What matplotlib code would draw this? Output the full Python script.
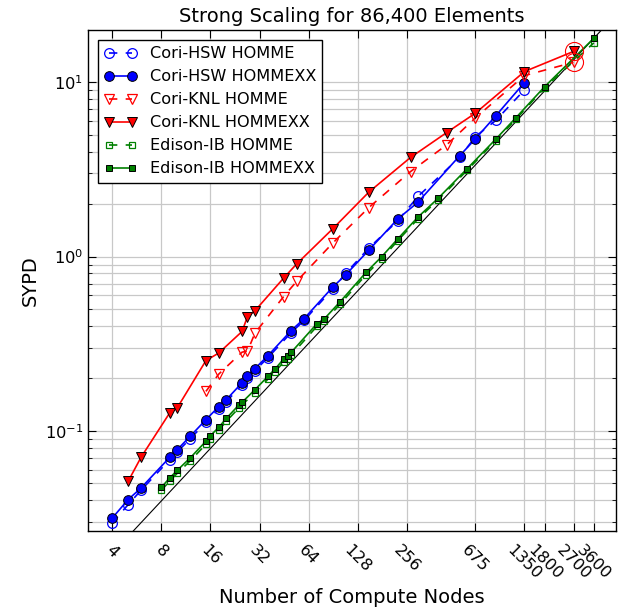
import numpy as np
import matplotlib
matplotlib.use("Agg")
import matplotlib.pyplot as plt
from matplotlib.ticker import NullLocator, NullFormatter, LogLocator

plt.rcParams['font.family'] = ['DejaVu Sans']
plt.rcParams['lines.scale_dashes'] = False
plt.rcParams['lines.dashed_pattern'] = [6, 6]

# ---- data ----
hsw_nodes = [4, 5, 6, 9, 10, 12, 15, 18, 20, 25, 27, 30, 36, 50, 60, 90, 108,
             150, 225, 300, 540, 675, 900, 1350]
hsw_homme = [0.0297, 0.0378, 0.0457, 0.0685, 0.0758, 0.0900, 0.112, 0.134,
             0.147, 0.184, 0.201, 0.222, 0.263, 0.366, 0.430, 0.652, 0.800,
             1.12, 1.60, 2.21, 3.70, 4.87, 6.03, 9.03]
hsw_hommexx = [0.0317, 0.0404, 0.0471, 0.0706, 0.0781, 0.0931, 0.116, 0.138,
               0.151, 0.189, 0.207, 0.228, 0.270, 0.376, 0.440, 0.668, 0.785,
               1.09, 1.64, 2.05, 3.78, 4.73, 6.41, 9.95]

knl_homme_nodes = [15, 18, 25, 27, 30, 45, 54, 90, 150, 270, 450, 675, 1350, 2700]
knl_homme = [0.1686, 0.212, 0.283, 0.287, 0.364, 0.59, 0.72, 1.195, 1.911,
             3.07, 4.37, 6.24, 10.9, 13.0]
knl_xx_nodes = [5, 6, 9, 10, 15, 18, 25, 27, 30, 45, 54, 90, 150, 270, 450,
                675, 1350, 2700]
knl_hommexx = [0.0514, 0.0706, 0.127, 0.1355, 0.253, 0.280, 0.372, 0.453,
               0.489, 0.753, 0.906, 1.443, 2.343, 3.70, 5.14, 6.64, 11.5, 15.0]

edison_nodes = [8, 9, 10, 12, 15, 16, 18, 20, 24, 25, 30, 36, 40, 45, 48, 50,
                72, 80, 100, 144, 180, 225, 300, 400, 600, 900, 1200, 1800, 3600]
edison_homme = [0.0456, 0.0517, 0.0571, 0.0673, 0.0838, 0.0905, 0.101, 0.1135,
                0.136, 0.141, 0.166, 0.198, 0.219, 0.249, 0.260, 0.272, 0.398,
                0.426, 0.534, 0.787, 0.972, 1.23, 1.645, 2.12, 3.12, 4.62,
                6.15, 9.30, 16.8]
edison_hommexx = [0.0475, 0.0538, 0.0594, 0.0700, 0.0872, 0.0940, 0.105,
                  0.118, 0.1415, 0.146, 0.1724, 0.2055, 0.2276, 0.2586, 0.270,
                  0.282, 0.412, 0.440, 0.551, 0.811, 1.00, 1.26, 1.684, 2.164,
                  3.185, 4.71, 6.27, 9.44, 17.87]

xtick_vals = [4, 8, 16, 32, 64, 128, 256, 675, 1350, 1800, 2700, 3600]
xtick_labels = [str(v) for v in xtick_vals]

# ---- figure ----
fig = plt.figure(figsize=(6.25, 6.13), dpi=100)
ax = fig.add_axes([0.1413, 0.1338, 0.8443, 0.8172])

lw = 1.2
ms_c, ms_t, ms_s = 7, 7.5, 5

ax.plot(hsw_nodes, hsw_homme, '--', color='blue', lw=lw, marker='o', ms=ms_c,
        mfc='none', mec='blue', mew=0.9, label='Cori-HSW HOMME', zorder=3)
ax.plot(hsw_nodes, hsw_hommexx, '-', color='blue', lw=lw, marker='o', ms=ms_c,
        mfc='blue', mec='black', mew=0.7, label='Cori-HSW HOMMEXX', zorder=3)
ax.plot(knl_homme_nodes, knl_homme, '--', color='red', lw=lw, marker='v', ms=ms_t,
        mfc='none', mec='red', mew=0.9, label='Cori-KNL HOMME', zorder=3)
ax.plot(knl_xx_nodes, knl_hommexx, '-', color='red', lw=lw, marker='v', ms=ms_t,
        mfc='red', mec='black', mew=0.7, label='Cori-KNL HOMMEXX', zorder=3)
ax.plot(edison_nodes, edison_homme, '--', color='green', lw=lw, marker='s', ms=ms_s,
        mfc='none', mec='green', mew=0.9, label='Edison-IB HOMME', zorder=3)
ax.plot(edison_nodes, edison_hommexx, '-', color='green', lw=lw, marker='s', ms=ms_s,
        mfc='green', mec='black', mew=0.7, label='Edison-IB HOMMEXX', zorder=3)

xlim = (2.85, 4920)
ylim = (0.0267, 19.9)

# ideal scaling line through the last Edison HOMMEXX point
xi = np.array(xlim)
ax.plot(xi, edison_hommexx[-1] * xi / edison_nodes[-1], '-', color='black',
        lw=0.8, zorder=2)

# highlight circles at 2700 nodes
ax.plot([knl_xx_nodes[-1], knl_homme_nodes[-1]], [knl_hommexx[-1], knl_homme[-1]],
        linestyle='none', marker='o', ms=13, mfc='none', mec='red', mew=0.8,
        zorder=4)

ax.set_xscale('log')
ax.set_yscale('log')
ax.set_xlim(*xlim)
ax.set_ylim(*ylim)

ax.set_xticks(xtick_vals)
ax.set_xticklabels(xtick_labels, rotation=-45, ha='center', fontsize=11.7)
ax.xaxis.set_minor_locator(NullLocator())
ax.yaxis.set_minor_locator(LogLocator(base=10, subs=np.arange(2, 10)))
ax.yaxis.set_minor_formatter(NullFormatter())
ax.tick_params(axis='y', labelsize=11.7)

ax.tick_params(which='both', direction='in', top=True, right=True)
ax.tick_params(which='major', length=6, width=0.8)
ax.tick_params(which='minor', length=3, width=0.6)
ax.tick_params(axis='x', which='major', pad=8)

ax.grid(True, which='major', axis='x', color='#c8c8c8', lw=0.9, zorder=0)
ax.grid(True, which='both', axis='y', color='#c8c8c8', lw=0.9, zorder=0)
ax.set_axisbelow(True)

ax.set_title('Strong Scaling for 86,400 Elements', fontsize=14)
ax.set_xlabel('Number of Compute Nodes', fontsize=14)
ax.set_ylabel('SYPD', fontsize=14)

leg = ax.legend(loc='upper left', numpoints=2, fontsize=11.6, labelspacing=0.5,
                borderaxespad=0.6, fancybox=False, framealpha=1,
                edgecolor='black')
leg.get_frame().set_linewidth(1.0)

for s in ax.spines.values():
    s.set_linewidth(1.0)

fig.savefig('out.png', dpi=100)
